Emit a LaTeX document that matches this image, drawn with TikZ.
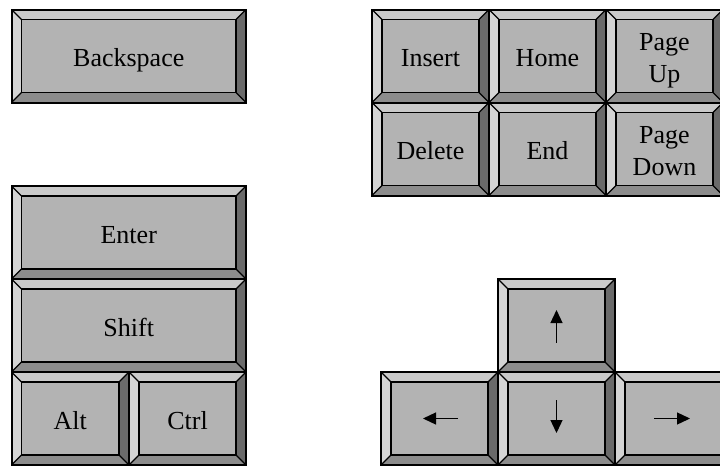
\documentclass[tikz,border=0pt]{standalone}
\usepackage{fontspec}
\setmainfont{Liberation Serif}
\usetikzlibrary{arrows.meta}
\definecolor{keyface}{RGB}{179,179,179}
\definecolor{bevtop}{RGB}{202,202,202}
\definecolor{bevleft}{RGB}{212,212,212}
\definecolor{bevright}{RGB}{106,106,106}
\definecolor{bevbottom}{RGB}{140,140,140}
\newcommand\keyfont{\fontsize{26}{32}\selectfont}
\newcommand\twolines[2]{\raisebox{-15.5pt}{\begin{tabular}[b]{@{}c@{}}#1\\#2\end{tabular}}}
\def\bw{10pt}
\newcommand\keybevel{%
  \coordinate (kNW) at (path picture bounding box.north west);
  \coordinate (kNE) at (path picture bounding box.north east);
  \coordinate (kSW) at (path picture bounding box.south west);
  \coordinate (kSE) at (path picture bounding box.south east);
  \coordinate (iNW) at ([shift={(\bw,-\bw)}]kNW);
  \coordinate (iNE) at ([shift={(-\bw,-\bw)}]kNE);
  \coordinate (iSW) at ([shift={(\bw,\bw)}]kSW);
  \coordinate (iSE) at ([shift={(-\bw,\bw)}]kSE);
  \fill[bevtop] (kNW) -- (kNE) -- (iNE) -- (iNW) -- cycle;
  \fill[bevbottom] (kSW) -- (kSE) -- (iSE) -- (iSW) -- cycle;
  \fill[bevleft] (kNW) -- (kSW) -- (iSW) -- (iNW) -- cycle;
  \fill[bevright] (kNE) -- (kSE) -- (iSE) -- (iNE) -- cycle;
  \draw[line width=1.4pt, line join=miter] (iNW) -- (iNE) -- (iSE) -- (iSW) -- cycle;
  \draw[line width=1.2pt] (kNW) -- (iNW) (kNE) -- (iNE) (kSW) -- (iSW) (kSE) -- (iSE);
}
\tikzset{
  key/.style={draw=black, line width=2pt, fill=keyface, inner sep=0pt,
    font=\keyfont, text=black, text height=21pt, text depth=0pt,
    minimum width=117pt, minimum height=93pt,
    path picture={\keybevel}},
  widekey/.style={key, minimum width=234.5pt},
  glyph/.style={line width=1.3pt, draw=black,
    -{Triangle[length=13pt,width=12pt]}}
}
\begin{document}
\begin{tikzpicture}[x=1pt,y=-1pt]
\useasboundingbox (0,0) rectangle (720,466);
\clip (0,0) rectangle (720,466);
% Backspace
\node[widekey] (bksp) at (128.75,56) {Backspace};
% Enter / Shift / Alt / Ctrl
\node[widekey] (enter) at (128.75,232.5) {Enter};
\node[widekey] (shift) at (128.75,325.5) {Shift};
\node[key, minimum width=117.5pt] (alt) at (70.25,418.5) {Alt};
\node[key] (ctrl) at (187.5,418.5) {Ctrl};
% Navigation block
\node[key] (ins) at (430.5,56) {Insert};
\node[key] (home) at (547.5,56) {Home};
\node[key] (pgup) at (664.5,56) {\twolines{Page}{Up}};
\node[key] (del) at (430.5,149) {Delete};
\node[key] (end) at (547.5,149) {End};
\node[key] (pgdn) at (664.5,149) {\twolines{Page}{Down}};
% Arrow keys
\node[key] (up) at (556.5,325.5) {};
\node[key] (left) at (439.5,418.5) {};
\node[key] (down) at (556.5,418.5) {};
\node[key] (right) at (673.5,418.5) {};
\draw[glyph] ([yshift=-17pt]up.center) -- ([yshift=15.5pt]up.center);
\draw[glyph] ([yshift=18.5pt]down.center) -- ([yshift=-14.5pt]down.center);
\draw[glyph] ([xshift=18.5pt]left.center) -- ([xshift=-16.5pt]left.center);
\draw[glyph] ([xshift=-19.5pt]right.center) -- ([xshift=16.5pt]right.center);
\end{tikzpicture}
\end{document}
